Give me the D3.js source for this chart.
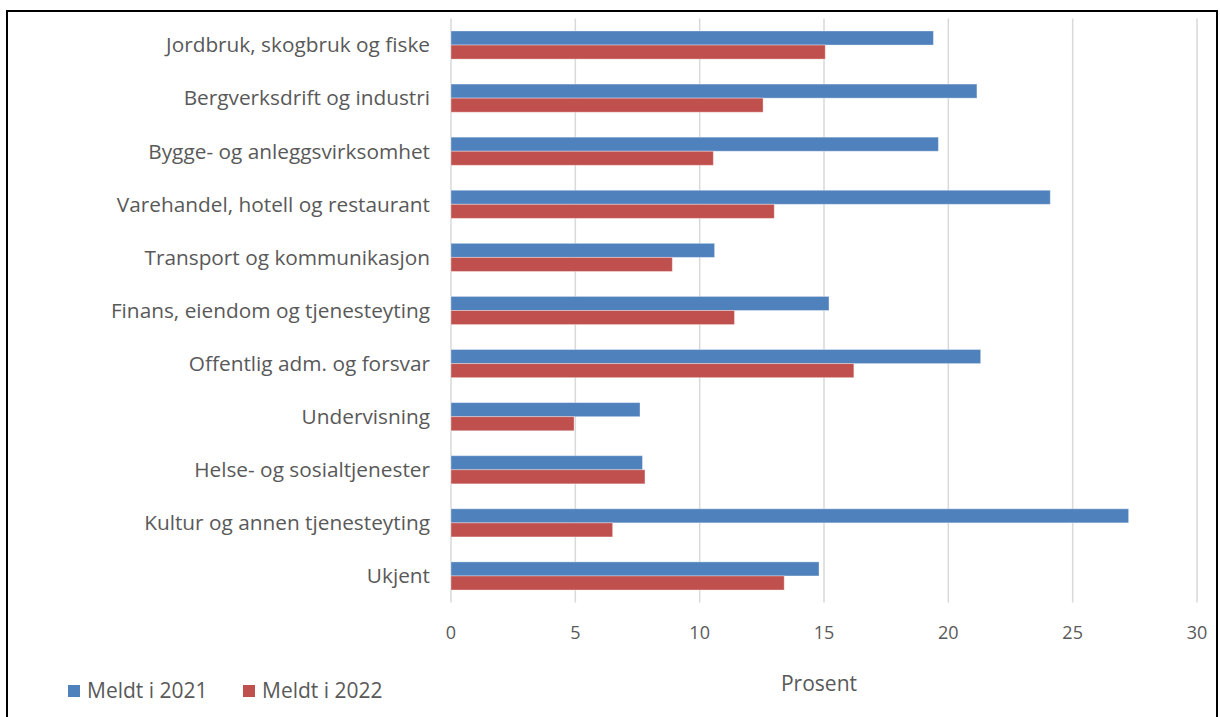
<!DOCTYPE html>
<html>
<head>
<meta charset="utf-8">
<script src="https://cdn.jsdelivr.net/npm/d3@7"></script>
<style>
  body { margin: 0; background: #fff; }
  svg { display: block; }
  text { font-family: "Open Sans", "Noto Sans", sans-serif; fill: #595959; }
</style>
</head>
<body>
<div class="canvas"></div>
<script>
// categories, top to bottom
var categories = [
	'Jordbruk, skogbruk og fiske',
	'Bergverksdrift og industri',
	'Bygge- og anleggsvirksomhet',
	'Varehandel, hotell og restaurant',
	'Transport og kommunikasjon',
	'Finans, eiendom og tjenesteyting',
	'Offentlig adm. og forsvar',
	'Undervisning',
	'Helse- og sosialtjenester',
	'Kultur og annen tjenesteyting',
	'Ukjent'
];
var meldt2021 = [19.4, 21.15, 19.6, 24.1, 10.6, 15.2, 21.3, 7.6, 7.7, 27.25, 14.8];
var meldt2022 = [15.05, 12.55, 10.55, 13.0, 8.9, 11.4, 16.2, 4.95, 7.8, 6.5, 13.4];
var seriesNames = ['Meldt i 2021', 'Meldt i 2022'];
var seriesColors = ['#4F81BD', '#C0504D'];
var xTicks = [0, 5, 10, 15, 20, 25, 30];

var width = 1220, height = 717;
var svg = d3.select('.canvas').append('svg')
	.attr('width', width).attr('height', height);

// frame
svg.append('rect')
	.attr('x', 7).attr('y', 11)
	.attr('width', 1210).attr('height', 720)
	.attr('fill', 'none').attr('stroke', '#000').attr('stroke-width', 2);

var x = d3.scaleLinear().domain([0, 30]).range([451, 1197]);
var y = d3.scaleBand().domain(categories).range([18.5, 602.5]).paddingInner(0.47).paddingOuter(0.235);
var ySub = d3.scaleBand().domain([0, 1]).range([0, y.bandwidth()]);

// gridlines
svg.append('g').selectAll('line')
	.data(xTicks)
	.enter().append('line')
	.attr('x1', d => x(d)).attr('x2', d => x(d))
	.attr('y1', 18.5).attr('y2', 602.5)
	.attr('stroke', '#d9d9d9').attr('stroke-width', 1.5);

// bars
var rows = categories.map(function(c, i) { return { cat: c, vals: [meldt2021[i], meldt2022[i]] }; });
var groups = svg.append('g').selectAll('g')
	.data(rows)
	.enter().append('g')
	.attr('transform', d => 'translate(0,' + y(d.cat) + ')');
groups.selectAll('rect')
	.data(d => d.vals)
	.enter().append('rect')
	.attr('x', x(0))
	.attr('y', (d, i) => ySub(i))
	.attr('width', d => x(d) - x(0))
	.attr('height', ySub.bandwidth())
	.attr('fill', (d, i) => seriesColors[i])
	.attr('stroke', 'rgba(255,255,255,0.35)').attr('stroke-width', 1);

// category labels
svg.append('g').selectAll('text')
	.data(categories)
	.enter().append('text')
	.attr('x', 430)
	.attr('y', d => y(d) + y.bandwidth() / 2)
	.attr('dy', '0.35em')
	.attr('text-anchor', 'end')
	.style('font-size', '20.8px')
	.text(d => d);

// x tick labels
svg.append('g').selectAll('text')
	.data(xTicks)
	.enter().append('text')
	.attr('x', d => x(d))
	.attr('y', 633)
	.attr('dy', '0.35em')
	.attr('text-anchor', 'middle')
	.style('font-size', '18px')
	.text(d => d);

// axis title
svg.append('text')
	.attr('x', 819).attr('y', 684)
	.attr('dy', '0.35em')
	.attr('text-anchor', 'middle')
	.style('font-size', '21px')
	.text('Prosent');

// legend
var legendX = [68, 243];
var legend = svg.append('g').selectAll('g')
	.data(seriesNames)
	.enter().append('g')
	.attr('transform', (d, i) => 'translate(' + legendX[i] + ',691)');
legend.append('rect')
	.attr('x', 0).attr('y', -6)
	.attr('width', 12).attr('height', 12)
	.attr('fill', (d, i) => seriesColors[i]);
legend.append('text')
	.attr('x', 19).attr('y', 0)
	.attr('dy', '0.35em')
	.style('font-size', '21px')
	.text(d => d);
</script>
</body>
</html>
